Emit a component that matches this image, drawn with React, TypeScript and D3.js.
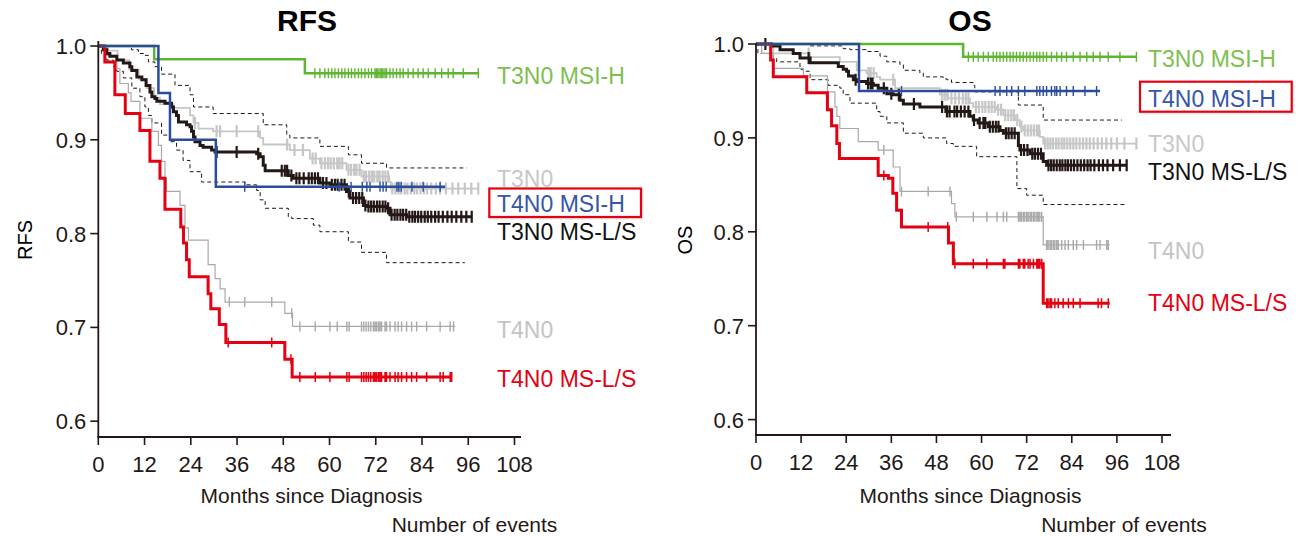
import React from 'react';
import * as d3 from 'd3';

type Step = [number, number];

// axis ticks
const monthTicks = [0, 12, 24, 36, 48, 60, 72, 84, 96, 108];
const survTicks = [0.6, 0.7, 0.8, 0.9, 1.0];

// ---------- RFS (left) ----------
const rfsT3N0MsiH: Step[] = [[14.5, 0.986], [53.6, 0.971]];
const rfsT3N0MsiHEnd = 98.6;
const rfsT3N0MsiHCensor = [56.2, 57.5, 58.8, 59.7, 60.6, 61.4, 62.3, 63.2, 64.0, 64.9, 65.7, 66.6, 67.5, 68.3, 69.2, 70.1, 70.9, 71.8, 72.2, 72.6, 73.1, 73.5, 73.9, 74.4, 74.8, 75.7, 76.5, 77.4, 78.3, 79.1, 80.4, 81.7, 83.0, 84.3, 85.6, 87.4, 89.1, 90.8, 92.1, 94.7, 98.6];

const rfsT4N0MsiH: Step[] = [[15.6, 0.95], [18.6, 0.9], [30.5, 0.85]];
const rfsT4N0MsiHEnd = 90;
const rfsT4N0MsiHCensor = [38.0, 62.5, 65.6, 68.5, 69.7, 70.5, 73.1, 73.9, 74.7, 77.5, 78.0, 78.6, 81.4, 84.3, 88.7];

const rfsT3N0: Step[] = [[2.5, 0.995], [5.0, 0.985], [8.0, 0.975], [10.5, 0.965], [12.5, 0.955], [14.5, 0.945], [16.0, 0.938], [19.5, 0.934], [23.8, 0.926], [24.7, 0.918], [26.0, 0.912], [29.8, 0.909], [42.0, 0.902], [42.8, 0.895], [49.7, 0.889], [54.9, 0.88], [57.5, 0.875], [64.4, 0.868], [68.3, 0.861], [75.5, 0.855], [75.9, 0.848]];
const rfsT3N0End = 98.6;
const rfsT3N0Censor = [25.1, 30.7, 31.6, 35.9, 41.5, 49.0, 50.9, 53.1, 55.6, 56.4, 57.9, 58.8, 59.6, 60.3, 61.1, 62.0, 62.6, 63.3, 64.9, 65.6, 66.4, 67.0, 67.8, 68.9, 69.5, 70.3, 71.0, 71.6, 72.4, 73.0, 73.8, 74.5, 75.2, 76.3, 77.1, 77.9, 78.6, 79.5, 80.2, 81.1, 82.0, 82.7, 83.6, 84.5, 85.3, 86.4, 87.6, 88.7, 90.2, 91.9, 93.4, 95.1, 96.8, 98.6];

const rfsT3N0MsLS: Step[] = [[1.3, 0.996], [2.2, 0.992], [3.0, 0.989], [4.8, 0.985], [6.5, 0.982], [8.2, 0.978], [8.7, 0.974], [10.0, 0.967], [11.3, 0.964], [12.4, 0.958], [13.4, 0.951], [13.9, 0.946], [14.7, 0.944], [15.2, 0.941], [17.3, 0.939], [19.0, 0.935], [19.5, 0.93], [20.3, 0.926], [20.8, 0.919], [22.9, 0.916], [23.8, 0.914], [24.2, 0.909], [24.7, 0.903], [25.1, 0.898], [26.4, 0.894], [27.2, 0.892], [29.4, 0.889], [30.3, 0.887], [41.1, 0.885], [42.0, 0.882], [42.8, 0.873], [43.3, 0.867], [49.3, 0.862], [50.6, 0.859], [57.5, 0.854], [60.1, 0.852], [64.4, 0.845], [65.3, 0.838], [68.8, 0.83], [69.6, 0.829], [74.8, 0.827], [75.7, 0.82], [80.0, 0.818]];
const rfsT3N0MsLSEnd = 96.9;
const rfsT3N0MsLSCensor = [30.7, 35.9, 41.5, 47.6, 48.4, 49.0, 50.1, 51.4, 52.2, 53.3, 54.6, 55.4, 56.2, 57.0, 58.3, 59.2, 60.6, 61.4, 62.1, 63.1, 63.9, 65.0, 66.1, 66.9, 67.7, 68.5, 69.3, 70.1, 70.8, 71.5, 72.3, 73.0, 73.8, 74.5, 75.2, 76.1, 76.9, 77.6, 78.4, 79.1, 79.9, 80.7, 81.5, 82.2, 83.0, 83.8, 84.7, 85.5, 86.4, 87.4, 88.3, 89.4, 90.6, 91.7, 92.9, 94.2, 95.5, 96.9];

const rfsT4N0: Step[] = [[2.0, 0.99], [4.8, 0.976], [5.6, 0.96], [7.8, 0.95], [8.5, 0.941], [10.8, 0.923], [13.9, 0.909], [15.6, 0.894], [16.4, 0.877], [17.3, 0.859], [17.7, 0.845], [21.2, 0.83], [22.5, 0.806], [23.4, 0.793], [28.5, 0.767], [30.3, 0.752], [31.6, 0.741], [32.9, 0.727], [48.4, 0.715], [50.4, 0.701]];
const rfsT4N0End = 92.6;
const rfsT4N0Censor = [34.0, 38.0, 45.0, 50.2, 52.3, 56.3, 60.1, 62.0, 64.5, 65.1, 68.3, 68.9, 69.5, 70.1, 70.7, 71.4, 71.8, 72.2, 72.7, 73.1, 73.5, 74.4, 74.8, 75.7, 77.0, 77.8, 78.7, 80.0, 81.3, 82.6, 85.2, 88.7, 91.3, 92.2];

const rfsT4N0MsLS: Step[] = [[1.7, 0.983], [4.3, 0.948], [7.0, 0.928], [10.8, 0.91], [13.4, 0.877], [16.0, 0.859], [17.3, 0.826], [21.4, 0.807], [22.1, 0.79], [22.9, 0.772], [23.6, 0.754], [28.5, 0.736], [29.2, 0.72], [31.4, 0.703], [33.1, 0.684], [48.4, 0.666], [50.3, 0.647]];
const rfsT4N0MsLSEnd = 91.8;
const rfsT4N0MsLSCensor = [33.7, 45.0, 50.0, 52.3, 56.3, 60.1, 64.5, 65.1, 68.3, 68.9, 69.5, 70.1, 70.7, 71.4, 71.8, 72.2, 72.7, 73.1, 73.5, 74.4, 74.8, 75.7, 77.0, 77.8, 78.7, 80.0, 81.3, 82.6, 85.2, 88.7, 89.5, 91.3, 91.7];

const rfsCiUpper: Step[] = [[8.2, 0.998], [8.6, 0.996], [10.4, 0.992], [12.1, 0.99], [13.0, 0.983], [14.7, 0.978], [16.4, 0.97], [19.9, 0.958], [23.8, 0.948], [24.7, 0.935], [29.8, 0.928], [42.8, 0.916], [48.9, 0.905], [49.7, 0.902], [57.5, 0.893], [64.9, 0.884], [68.3, 0.875], [74.8, 0.87]];
const rfsCiUpperEnd = 95.6;
const rfsCiLower: Step[] = [[0.8, 0.992], [2.2, 0.985], [3.9, 0.978], [4.8, 0.973], [6.5, 0.966], [8.7, 0.955], [10.8, 0.946], [12.1, 0.935], [13.0, 0.926], [13.9, 0.918], [16.4, 0.905], [18.6, 0.898], [20.3, 0.889], [22.0, 0.878], [23.8, 0.866], [26.8, 0.855], [38.1, 0.852], [41.1, 0.846], [42.0, 0.836], [43.3, 0.827], [49.3, 0.818], [50.2, 0.816], [55.8, 0.809], [57.5, 0.802], [64.9, 0.791], [68.3, 0.78], [74.8, 0.769]];
const rfsCiLowerEnd = 95.1;

// ---------- OS (right) ----------
const osT3N0MsiH: Step[] = [[55.1, 0.9865]];
const osT3N0MsiHEnd = 101.2;
const osT3N0MsiHCensor = [56.5, 57.8, 59.1, 60.5, 61.8, 63.1, 64.0, 64.9, 65.8, 66.7, 67.6, 68.4, 69.3, 70.2, 71.1, 72.0, 72.9, 73.8, 74.7, 75.5, 76.4, 77.3, 78.6, 80.0, 81.3, 82.6, 84.4, 86.2, 88.0, 89.7, 91.5, 93.7, 96.8, 101.2];

const osT4N0MsiH: Step[] = [[27.4, 0.95]];
const osT4N0MsiHEnd = 91.5;
const osT4N0MsiHCensor = [38.7, 63.6, 64.9, 66.7, 68.0, 69.8, 71.5, 74.7, 75.5, 76.4, 77.3, 78.6, 79.5, 80.0, 80.9, 82.6, 84.4, 87.5, 90.6];

const osT3N0: Step[] = [[4.6, 0.99], [14.4, 0.986], [22.3, 0.981], [26.8, 0.972], [29.4, 0.969], [32.1, 0.965], [33.0, 0.962], [37.0, 0.953], [48.9, 0.946], [51.1, 0.942], [56.9, 0.937], [57.8, 0.933], [64.0, 0.93], [65.8, 0.924], [68.9, 0.919], [70.2, 0.912], [71.1, 0.908], [75.5, 0.901], [76.4, 0.894]];
const osT3N0End = 101.2;
const osT3N0Censor = [14.0, 29.9, 30.5, 31.3, 36.5, 49.5, 50.2, 50.9, 52.0, 53.0, 54.0, 55.0, 55.8, 56.5, 58.5, 59.3, 60.2, 61.0, 61.9, 62.7, 63.5, 64.4, 65.2, 66.3, 67.1, 67.9, 68.6, 69.5, 70.6, 71.5, 72.3, 73.1, 73.9, 74.7, 75.3, 76.9, 77.6, 78.3, 79.0, 79.8, 80.5, 81.3, 82.0, 82.8, 83.6, 84.4, 85.2, 86.1, 87.0, 87.9, 88.8, 89.8, 90.9, 92.0, 93.2, 94.5, 96.0, 98.0, 101.2];

const osT3N0MsLS: Step[] = [[4.2, 0.998], [6.4, 0.994], [9.9, 0.99], [11.7, 0.985], [14.4, 0.98], [21.9, 0.976], [23.2, 0.973], [24.1, 0.971], [24.6, 0.966], [25.9, 0.962], [26.8, 0.96], [29.4, 0.958], [31.2, 0.956], [32.5, 0.953], [34.8, 0.947], [36.5, 0.946], [38.3, 0.94], [39.2, 0.936], [43.6, 0.933], [50.5, 0.928], [56.9, 0.923], [57.8, 0.919], [59.1, 0.916], [61.8, 0.912], [64.9, 0.908], [65.8, 0.905], [69.8, 0.892], [70.2, 0.887], [72.9, 0.883], [76.4, 0.875], [77.3, 0.871]];
const osT3N0MsLSEnd = 98.6;
const osT3N0MsLSCensor = [2.5, 14.0, 26.5, 29.8, 30.5, 31.0, 34.0, 36.0, 38.0, 42.0, 49.5, 50.8, 51.5, 52.8, 53.5, 54.5, 55.5, 56.5, 58.0, 59.5, 60.5, 61.0, 62.2, 63.0, 63.8, 64.5, 66.5, 67.2, 68.0, 68.8, 70.5, 71.3, 72.2, 73.5, 74.2, 75.0, 75.8, 77.8, 78.5, 79.2, 80.0, 80.8, 81.5, 82.3, 83.0, 83.8, 84.6, 85.5, 86.4, 87.3, 88.2, 89.0, 90.0, 91.2, 92.3, 93.5, 95.0, 96.8, 98.6];

const osT4N0: Step[] = [[1.5, 0.99], [4.6, 0.974], [12.6, 0.966], [19.0, 0.949], [21.0, 0.933], [21.5, 0.923], [22.3, 0.91], [27.2, 0.896], [32.5, 0.887], [36.5, 0.869], [38.3, 0.843], [52.0, 0.83], [52.9, 0.816], [76.4, 0.786]];
const osT4N0End = 94.1;
const osT4N0Censor = [34.0, 38.7, 45.8, 51.6, 53.3, 57.8, 61.4, 64.1, 65.8, 66.7, 69.8, 70.2, 70.6, 71.1, 71.5, 72.0, 72.4, 72.9, 73.3, 73.8, 74.2, 74.7, 75.1, 75.5, 76.0, 77.3, 77.7, 78.2, 78.6, 79.1, 79.5, 80.0, 80.4, 81.3, 82.2, 83.1, 84.4, 85.3, 87.1, 90.6, 91.5, 93.3, 93.7];

const osT4N0MsLS: Step[] = [[3.9, 0.983], [4.6, 0.965], [13.5, 0.948], [19.0, 0.93], [20.1, 0.913], [21.5, 0.894], [22.2, 0.878], [32.5, 0.86], [35.2, 0.857], [36.4, 0.841], [37.4, 0.823], [38.7, 0.805], [51.2, 0.788], [52.5, 0.766], [76.4, 0.724]];
const osT4N0MsLSEnd = 94.1;
const osT4N0MsLSCensor = [34.0, 45.8, 51.0, 52.9, 57.8, 61.4, 65.8, 66.2, 69.8, 70.2, 71.1, 71.5, 72.4, 72.9, 73.8, 74.7, 75.1, 75.5, 76.0, 77.3, 77.7, 78.2, 78.6, 79.5, 80.4, 81.7, 83.1, 84.4, 86.2, 91.0, 91.9, 93.7];

const osCiUpper: Step[] = [[14.4, 0.998], [23.2, 0.995], [25.0, 0.994], [29.4, 0.992], [33.0, 0.987], [34.8, 0.981], [38.3, 0.978], [39.2, 0.972], [43.6, 0.969], [44.5, 0.965], [49.8, 0.963], [50.7, 0.962], [52.0, 0.959], [57.8, 0.956], [58.2, 0.949], [69.8, 0.935], [76.4, 0.919]];
const osCiUpperEnd = 97.3;
const osCiLower: Step[] = [[0.5, 0.99], [4.6, 0.985], [5.5, 0.981], [11.7, 0.973], [12.6, 0.971], [14.4, 0.962], [19.2, 0.956], [22.3, 0.953], [23.2, 0.946], [25.0, 0.937], [32.1, 0.928], [33.0, 0.923], [34.8, 0.916], [39.2, 0.905], [44.5, 0.9], [50.7, 0.894], [52.5, 0.891], [58.7, 0.88], [69.4, 0.846], [72.0, 0.839], [76.4, 0.829]];
const osCiLowerEnd = 98.1;

// legend labels (top to bottom)
const rfsLegend = ['T3N0 MSI-H', 'T3N0', 'T4N0 MSI-H', 'T3N0 MS-L/S', 'T4N0', 'T4N0 MS-L/S'];
const osLegend = ['T3N0 MSI-H', 'T4N0 MSI-H', 'T3N0', 'T3N0 MS-L/S', 'T4N0', 'T4N0 MS-L/S'];

const FONT = 'Arial, "Liberation Sans", Helvetica, sans-serif';
const INK = '#231815';
const GREEN = '#5fb531';
const BLUE = '#2b4c9c';
const RED = '#e50012';
const LGRAY = '#c6c6c6';
const MGRAY = '#a9a9a9';

interface Curve {
  events: Step[];
  end: number;
  censor?: number[];
  color: string;
  width: number;
  dash?: string;
  tickH?: number;
  tickW?: number;
}

interface Layout {
  x0: number; x108: number; y1: number; y06: number;
  axisTop: number; axisY: number; axisRight: number;
  title: string; titleX: number;
  yLabel: string; yLabelX: number;
  xTitleX: number; eventsX: number;
  legendX: number; legendY: number[]; legendColors: string[];
  box: { x: number; y: number; w: number; h: number };
}

function survAt(events: Step[], t: number) {
  let s = 1;
  for (const e of events) if (e[0] <= t) s = e[1];
  return s;
}

function Panel({ lay, curves, labels }: { lay: Layout; curves: Curve[]; labels: string[] }) {
  const x = d3.scaleLinear().domain([0, 108]).range([lay.x0, lay.x108]);
  const y = d3.scaleLinear().domain([0.6, 1.0]).range([lay.y06, lay.y1]);
  const step = d3.line<Step>().x(d => x(d[0])).y(d => y(d[1])).curve(d3.curveStepAfter);

  return (
    <g>
      {curves.map((c, i) => {
        const last = c.events.length ? c.events[c.events.length - 1][1] : 1;
        const pts: Step[] = [[0, 1], ...c.events, [c.end, last]];
        const h = c.tickH ?? 5;
        const ticks = (c.censor || []).map(t => {
          const px = x(t), py = y(survAt(c.events, t));
          return `M${px},${py - h}V${py + h}`;
        }).join('');
        return (
          <g key={i}>
            <path d={step(pts) || ''} fill="none" stroke={c.color} strokeWidth={c.width}
              strokeDasharray={c.dash} strokeLinejoin="miter" />
            {ticks && <path d={ticks} stroke={c.color} strokeWidth={c.tickW ?? 1.3} fill="none" />}
          </g>
        );
      })}

      {/* axes */}
      <line x1={x(0)} x2={x(0)} y1={lay.axisTop} y2={lay.axisY} stroke={INK} strokeWidth={1.8} />
      <line x1={x(0) - 1} x2={lay.axisRight} y1={lay.axisY} y2={lay.axisY} stroke={INK} strokeWidth={1.8} />
      {survTicks.map(v => (
        <g key={v}>
          <line x1={x(0) - 8} x2={x(0)} y1={y(v)} y2={y(v)} stroke={INK} strokeWidth={1.6} />
          <text x={x(0) - 12} y={y(v)} dy="0.36em" textAnchor="end" fontSize={22} fontFamily={FONT} fill={INK}>
            {v.toFixed(1)}
          </text>
        </g>
      ))}
      {monthTicks.map(m => (
        <g key={m}>
          <line x1={x(m)} x2={x(m)} y1={lay.axisY} y2={lay.axisY + 8} stroke={INK} strokeWidth={1.6} />
          <text x={x(m)} y={lay.axisY + 34.5} textAnchor="middle" fontSize={22} fontFamily={FONT} fill={INK}>{m}</text>
        </g>
      ))}

      <text x={lay.titleX} y={31} textAnchor="middle" fontSize={30} fontWeight="bold" fontFamily={FONT} fill="#000">{lay.title}</text>
      <text transform={`translate(${lay.yLabelX},240) rotate(-90)`} textAnchor="middle" fontSize={20} fontFamily={FONT} fill="#000">{lay.yLabel}</text>
      <text x={lay.xTitleX} y={503} textAnchor="middle" fontSize={21} fontFamily={FONT} fill={INK}>Months since Diagnosis</text>
      <text x={lay.eventsX} y={532} textAnchor="middle" fontSize={21} fontFamily={FONT} fill={INK}>Number of events</text>

      <rect x={lay.box.x + 1.5} y={lay.box.y + 1.5} width={lay.box.w} height={lay.box.h} fill="none" stroke="#e4e4e4" strokeWidth={2} />
      <rect x={lay.box.x} y={lay.box.y} width={lay.box.w} height={lay.box.h} fill="#fff" stroke={RED} strokeWidth={2.2} />
      {labels.map((l, i) => (
        <text key={i} x={lay.legendX} y={lay.legendY[i]} fontSize={23} fontFamily={FONT} fill={lay.legendColors[i]}>{l}</text>
      ))}
    </g>
  );
}

const rfsLayout: Layout = {
  x0: 98.3, x108: 514.5, y1: 46, y06: 421.2,
  axisTop: 41, axisY: 437, axisRight: 521,
  title: 'RFS', titleX: 307, yLabel: 'RFS', yLabelX: 32,
  xTitleX: 311.5, eventsX: 474.5,
  legendX: 497, legendY: [84, 187, 212, 240, 338, 387],
  legendColors: ['#7cc04f', '#c8c8c8', '#3556a8', '#111', '#c4c4c4', RED],
  box: { x: 489.3, y: 188.5, w: 151.7, h: 28.5 },
};

const osLayout: Layout = {
  x0: 756, x108: 1162, y1: 44, y06: 419.6,
  axisTop: 43, axisY: 435, axisRight: 1171,
  title: 'OS', titleX: 970, yLabel: 'OS', yLabelX: 692,
  xTitleX: 970.5, eventsX: 1124,
  legendX: 1148, legendY: [66.5, 106.5, 151.7, 179.5, 259, 311],
  legendColors: ['#7cc04f', '#3556a8', '#c8c8c8', '#111', '#c4c4c4', RED],
  box: { x: 1140, y: 81.7, w: 151.7, h: 30 },
};

const rfsCurves: Curve[] = [
  { events: rfsCiUpper, end: rfsCiUpperEnd, color: INK, width: 1, dash: '4,3' },
  { events: rfsCiLower, end: rfsCiLowerEnd, color: INK, width: 1, dash: '4,3' },
  { events: rfsT3N0, end: rfsT3N0End, censor: rfsT3N0Censor, color: LGRAY, width: 1.8, tickW: 2.2, tickH: 6 },
  { events: rfsT4N0, end: rfsT4N0End, censor: rfsT4N0Censor, color: MGRAY, width: 1.2, tickW: 1.4 },
  { events: rfsT3N0MsLS, end: rfsT3N0MsLSEnd, censor: rfsT3N0MsLSCensor, color: INK, width: 3, tickW: 2.2, tickH: 6 },
  { events: rfsT4N0MsLS, end: rfsT4N0MsLSEnd, censor: rfsT4N0MsLSCensor, color: RED, width: 3, tickW: 1.5 },
  { events: rfsT3N0MsiH, end: rfsT3N0MsiHEnd, censor: rfsT3N0MsiHCensor, color: GREEN, width: 2.5, tickW: 1.4 },
  { events: rfsT4N0MsiH, end: rfsT4N0MsiHEnd, censor: rfsT4N0MsiHCensor, color: BLUE, width: 2.5, tickW: 1.4 },
];

const osCurves: Curve[] = [
  { events: osCiUpper, end: osCiUpperEnd, color: INK, width: 1, dash: '4,3' },
  { events: osCiLower, end: osCiLowerEnd, color: INK, width: 1, dash: '4,3' },
  { events: osT3N0, end: osT3N0End, censor: osT3N0Censor, color: LGRAY, width: 1.8, tickW: 2.2, tickH: 6 },
  { events: osT4N0, end: osT4N0End, censor: osT4N0Censor, color: MGRAY, width: 1.2, tickW: 1.4 },
  { events: osT3N0MsLS, end: osT3N0MsLSEnd, censor: osT3N0MsLSCensor, color: INK, width: 3, tickW: 2.2, tickH: 6 },
  { events: osT4N0MsLS, end: osT4N0MsLSEnd, censor: osT4N0MsLSCensor, color: RED, width: 3, tickW: 1.5 },
  { events: osT3N0MsiH, end: osT3N0MsiHEnd, censor: osT3N0MsiHCensor, color: GREEN, width: 2.5, tickW: 1.4 },
  { events: osT4N0MsiH, end: osT4N0MsiHEnd, censor: osT4N0MsiHCensor, color: BLUE, width: 2.5, tickW: 1.4 },
];

export default function App() {
  return (
    <svg width={1301} height={536} style={{ position: 'absolute', left: 0, top: 0, background: '#fff' }}>
      <Panel lay={rfsLayout} curves={rfsCurves} labels={rfsLegend} />
      <Panel lay={osLayout} curves={osCurves} labels={osLegend} />
    </svg>
  );
}
